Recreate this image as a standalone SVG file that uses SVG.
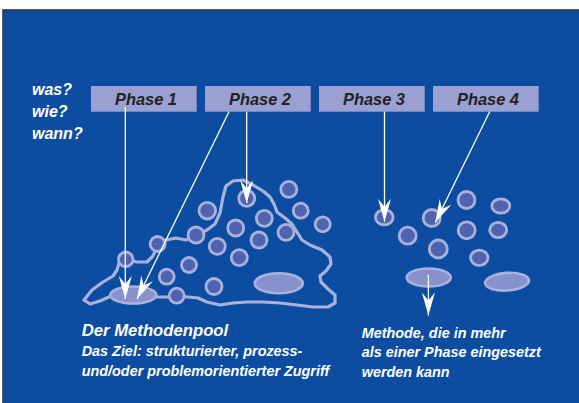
<svg xmlns="http://www.w3.org/2000/svg" width="579" height="403" viewBox="0 0 579 403">
<style>
.bg{fill:#0d4da1;stroke:#3a3a3a;stroke-width:1.6}
.box{fill:#9aa0d2}
.pt{font-family:"Liberation Sans",Arial,sans-serif;font-weight:bold;font-style:italic;font-size:16.4px;fill:#232323;text-anchor:middle}
.wt{font-family:"Liberation Sans",Arial,sans-serif;font-weight:bold;font-style:italic;fill:#ffffff}
.dot{fill:#4f63b0;stroke:#a9b2dd;stroke-width:2.8}
.ell{fill:#8791cb;stroke:#a9b2dd;stroke-width:2.6}
.pool{fill:none;stroke:#a9b2dd;stroke-width:3.2;stroke-linejoin:round;stroke-linecap:round}
.con{fill:none;stroke:#ffffff;stroke-width:1.3}
</style>
<defs>
<marker id="ah" markerUnits="userSpaceOnUse" markerWidth="30" markerHeight="20" viewBox="-25 -10 30 20" refX="0" refY="0" orient="auto" overflow="visible">
<path d="M0,0 L-23,-6.5 L-15,0 L-23,6.5 Z" fill="#ffffff"/>
</marker>
</defs>
<rect x="0" y="0" width="579" height="403" fill="#ffffff"/>
<rect class="bg" x="3" y="10" width="580" height="400"/>
<g id="questions">
<text class="wt" x="32" y="95" font-size="16">was?</text>
<text class="wt" x="32" y="117.3" font-size="16">wie?</text>
<text class="wt" x="32" y="139.3" font-size="16">wann?</text>
</g>
<g id="phase1"><rect class="box" x="91" y="86" width="105.7" height="25.7"/><text class="pt" x="146" y="105">Phase 1</text></g>
<g id="phase2"><rect class="box" x="205" y="86" width="105.7" height="25.7"/><text class="pt" x="260" y="105">Phase 2</text></g>
<g id="phase3"><rect class="box" x="319" y="86" width="105.7" height="25.7"/><text class="pt" x="374" y="105">Phase 3</text></g>
<g id="phase4"><rect class="box" x="433" y="86" width="105.7" height="25.7"/><text class="pt" x="488" y="105">Phase 4</text></g>
<g id="methodenpool">
<path class="pool" d="M84,300 L92,290 L103,282 L113,276 L117,270 L119,263 L125,259 L137,262 L147,262 L153,256 L158,244 L166,240 L176,238 L186,240 L196,235 L207,230 L215,224 L220,213 L223,197 L226,186 L233,181 L243,180 L253,185 L263,191 L270,197 L274,204 L277,212 L285,218 L292,224 L297,232 L302,240 L310,245 L322,250 L330,257 L331,264 L326,271 L320,276 L321,282 L328,289 L335,295 L335,303 L328,307 L313,307 L297,305 L280,303 L263,302 L247,302 L233,303 L220,305 L207,302 L198,298 L188,297 L177,296 L168,297 L157,297 L133,295 L111,296 L100,301 L90,304 Z"/>
<circle class="dot" cx="125.7" cy="259.3" r="7.3"/>
<circle class="dot" cx="157.7" cy="244" r="7.5"/>
<circle class="dot" cx="196" cy="235" r="8"/>
<circle class="dot" cx="207.3" cy="210.7" r="8.3"/>
<circle class="dot" cx="246.7" cy="198.3" r="8"/>
<circle class="dot" cx="288.8" cy="189.3" r="8"/>
<circle class="dot" cx="300.7" cy="210.7" r="7.5"/>
<circle class="dot" cx="322.7" cy="224.3" r="7.5"/>
<circle class="dot" cx="264.3" cy="218.3" r="8"/>
<circle class="dot" cx="235.7" cy="228" r="8"/>
<circle class="dot" cx="286" cy="232.3" r="8"/>
<circle class="dot" cx="259" cy="240" r="8"/>
<circle class="dot" cx="217.3" cy="246.3" r="8"/>
<circle class="dot" cx="239.3" cy="257.7" r="8"/>
<circle class="dot" cx="189" cy="265" r="7.5"/>
<circle class="dot" cx="166.7" cy="276.7" r="7.5"/>
<circle class="dot" cx="214" cy="286.5" r="8"/>
<circle class="dot" cx="176.7" cy="295.7" r="7.5"/>
<ellipse class="ell" cx="133.3" cy="295" rx="23" ry="8.5"/>
<ellipse class="ell" cx="278.8" cy="283.3" rx="24" ry="10"/>
</g>
<g id="shared-methods">
<ellipse class="dot" cx="384.3" cy="217.3" rx="8.8" ry="7.6"/>
<circle class="dot" cx="431.7" cy="218" r="8.5"/>
<circle class="dot" cx="466.5" cy="200" r="8.5"/>
<ellipse class="dot" cx="500.8" cy="206" rx="9" ry="7.2"/>
<circle class="dot" cx="407.7" cy="235.7" r="8.5"/>
<circle class="dot" cx="466.7" cy="230.3" r="8.5"/>
<ellipse class="dot" cx="498.2" cy="230" rx="8.5" ry="7.6"/>
<circle class="dot" cx="438.3" cy="249" r="9"/>
<ellipse class="dot" cx="479.3" cy="257.7" rx="8.7" ry="7.6"/>
<ellipse class="ell" cx="428.7" cy="277.5" rx="22" ry="9"/>
<ellipse class="ell" cx="507" cy="281.7" rx="22" ry="8.8" transform="rotate(-4 507 281.7)"/>
</g>
<g id="connectors">
<line class="con" x1="125.3" y1="107" x2="125.3" y2="299" marker-end="url(#ah)"/>
<line class="con" x1="229" y1="111.7" x2="137" y2="299" marker-end="url(#ah)"/>
<line class="con" x1="246.7" y1="111.7" x2="246.7" y2="203.3" marker-end="url(#ah)"/>
<line class="con" x1="384.5" y1="111.7" x2="384.5" y2="221.7" marker-end="url(#ah)"/>
<line class="con" x1="489.7" y1="111.7" x2="435.3" y2="222.5" marker-end="url(#ah)"/>
<line class="con" x1="428.4" y1="275" x2="428.4" y2="315.5" marker-end="url(#ah)"/>
</g>
<g id="captions">
<text class="wt" x="81.7" y="335.7" font-size="16.7">Der Methodenpool</text>
<text class="wt" x="81.7" y="356" font-size="14.4">Das Ziel: strukturierter, prozess-</text>
<text class="wt" x="81.7" y="375.5" font-size="14.4">und/oder problemorientierter Zugriff</text>
<text class="wt" x="361.7" y="337.7" font-size="14.4">Methode, die in mehr</text>
<text class="wt" x="361.7" y="357.3" font-size="14.4">als einer Phase eingesetzt</text>
<text class="wt" x="361.7" y="376.7" font-size="14.4">werden kann</text>
</g>
</svg>
